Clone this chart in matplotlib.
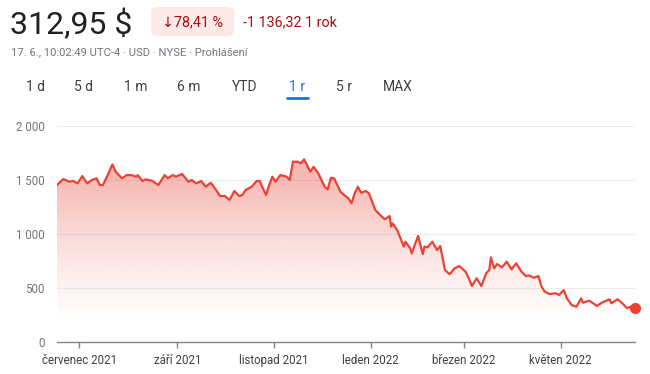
import numpy as np
import matplotlib
matplotlib.use("Agg")
import matplotlib.pyplot as plt
import matplotlib.dates as mdates
from matplotlib.patches import FancyBboxPatch, Polygon
import datetime as dt

plt.rcParams['font.family'] = ['Roboto', 'DejaVu Sans']

# price trace (date, USD)
dates = [
    "2021-06-17", "2021-06-21", "2021-06-25", "2021-06-27", "2021-06-30",
    "2021-07-03", "2021-07-06", "2021-07-09", "2021-07-12", "2021-07-14",
    "2021-07-16", "2021-07-19", "2021-07-22", "2021-07-24", "2021-07-28",
    "2021-07-31", "2021-08-03", "2021-08-06", "2021-08-07", "2021-08-10",
    "2021-08-12", "2021-08-16", "2021-08-20", "2021-08-24", "2021-08-26",
    "2021-08-29", "2021-08-31", "2021-09-04", "2021-09-08", "2021-09-10",
    "2021-09-13", "2021-09-16", "2021-09-19", "2021-09-22", "2021-09-24",
    "2021-09-28", "2021-10-01", "2021-10-04", "2021-10-07", "2021-10-10",
    "2021-10-12", "2021-10-14", "2021-10-18", "2021-10-21", "2021-10-23",
    "2021-10-25", "2021-10-27", "2021-10-29", "2021-10-31", "2021-11-02",
    "2021-11-05", "2021-11-09", "2021-11-11", "2021-11-13", "2021-11-16",
    "2021-11-18", "2021-11-20", "2021-11-24", "2021-11-26", "2021-11-29",
    "2021-12-03", "2021-12-05", "2021-12-07", "2021-12-09", "2021-12-13",
    "2021-12-16", "2021-12-18", "2021-12-20", "2021-12-22", "2021-12-24",
    "2021-12-26", "2021-12-29", "2021-12-31", "2022-01-04", "2022-01-07",
    "2022-01-10", "2022-01-13", "2022-01-14", "2022-01-15", "2022-01-18",
    "2022-01-22", "2022-01-23", "2022-01-26", "2022-01-27", "2022-01-31",
    "2022-02-03", "2022-02-04", "2022-02-06", "2022-02-09", "2022-02-12",
    "2022-02-14", "2022-02-17", "2022-02-20", "2022-02-23", "2022-02-26",
    "2022-03-02", "2022-03-04", "2022-03-06", "2022-03-09", "2022-03-12",
    "2022-03-15", "2022-03-17", "2022-03-18", "2022-03-20", "2022-03-22",
    "2022-03-25", "2022-03-28", "2022-03-31", "2022-04-03", "2022-04-06",
    "2022-04-09", "2022-04-11", "2022-04-14", "2022-04-17", "2022-04-19",
    "2022-04-21", "2022-04-24", "2022-04-28", "2022-04-30", "2022-05-03",
    "2022-05-05", "2022-05-08", "2022-05-11", "2022-05-14", "2022-05-15",
    "2022-05-19", "2022-05-21", "2022-05-24", "2022-05-27", "2022-05-30",
    "2022-06-01", "2022-06-02", "2022-06-06", "2022-06-09", "2022-06-12",
    "2022-06-14", "2022-06-17",
]
prices = [
    1453, 1508, 1483, 1492, 1468,
    1536, 1468, 1499, 1515, 1453,
    1453, 1545, 1644, 1576, 1515,
    1545, 1545, 1530, 1545, 1490,
    1505, 1492, 1453, 1545, 1515,
    1545, 1530, 1555, 1483, 1499,
    1468, 1490, 1437, 1474, 1437,
    1351, 1351, 1314, 1397, 1351,
    1360, 1406, 1437, 1490, 1490,
    1422, 1360, 1453, 1530, 1483,
    1545, 1530, 1499, 1669, 1669,
    1654, 1691, 1576, 1622, 1561,
    1437, 1413, 1520, 1515, 1391,
    1351, 1329, 1283, 1376, 1437,
    1381, 1397, 1376, 1221, 1175,
    1135, 1165, 1066, 1097, 1029,
    881, 927, 866, 819, 980,
    813, 881, 875, 927, 850,
    887, 665, 625, 680, 702,
    649, 588, 516, 588, 516,
    634, 665, 782, 680, 720,
    690, 742, 671, 727, 655,
    609, 615, 593, 609, 510,
    464, 442, 449, 433, 479,
    402, 340, 324, 402, 362,
    380, 362, 331, 362, 380,
    393, 356, 393, 356, 310,
    324, 312.95,
]

tick_dates = ["2021-07-01", "2021-09-01", "2021-11-01", "2022-01-01", "2022-03-01", "2022-05-01"]
tick_labels = ["červenec 2021", "září 2021", "listopad 2021", "leden 2022", "březen 2022", "květen 2022"]
y_ticks = [0, 500, 1000, 1500, 2000]
y_labels = ["0", "500", "1 000", "1 500", "2 000"]

tabs = ["1 d", "5 d", "1 m", "6 m", "YTD", "1 r", "5 r", "MAX"]
tab_x = [35, 84, 136, 189, 245, 297, 344, 398]

RED = "#ea4335"
GRAY = "#70757a"

x = mdates.date2num([dt.datetime.strptime(d, "%Y-%m-%d") for d in dates])
y = np.array(prices)

W, H = 650, 374
fig = plt.figure(figsize=(W / 100, H / 100), dpi=100)
ax = fig.add_axes([57 / W, (H - 341.7) / H, (635 - 57) / W, (341.7 - 126) / H])

ax.set_xlim(x[0], x[-1])
ax.set_ylim(0, 2000)

# gradient fill under the line
grad = np.linspace(0, 1, 256).reshape(-1, 1)
alpha = np.clip((grad - 0.08) / 0.8, 0, 1) ** 1.3 * 0.38
rgba = np.zeros((256, 1, 4))
rgba[..., :3] = matplotlib.colors.to_rgb(RED)
rgba[..., 3] = alpha
im = ax.imshow(rgba, extent=[x[0], x[-1], 0, 1750], origin="lower", aspect="auto", zorder=1)
poly = Polygon(np.column_stack([np.r_[x[0], x, x[-1]], np.r_[0, y, 0]]), closed=True,
               transform=ax.transData, facecolor="none", edgecolor="none")
ax.add_patch(poly)
im.set_clip_path(poly)

ax.plot(x, y, color=RED, lw=1.6, zorder=3, solid_joinstyle="round")
ax.plot(x[-1], y[-1], "o", color=RED, ms=7, zorder=4, clip_on=False)

for v in y_ticks[1:]:
    ax.axhline(v, color="#ebedef", lw=0.8, zorder=0)

for s in ["top", "right", "left"]:
    ax.spines[s].set_visible(False)
ax.spines["bottom"].set_color("#80868b")
ax.spines["bottom"].set_linewidth(1.0)

ax.set_yticks(y_ticks)
ax.set_yticklabels(y_labels)
ax.tick_params(axis="y", length=0, pad=9, labelsize=8.3, labelcolor=GRAY)
ax.set_xticks(mdates.date2num([dt.datetime.strptime(d, "%Y-%m-%d") for d in tick_dates]))
ax.set_xticklabels(tick_labels)
ax.tick_params(axis="x", length=4, width=1, color="#80868b", pad=5, labelsize=8.3, labelcolor="#3c4043")

# header
fig.text(10 / W, 1 - 24 / H, "312,95 $", fontsize=23, color="#202124", va="center", ha="left")
badge = FancyBboxPatch((151 / W, 1 - 36 / H), 83 / W, 29 / H,
                       boxstyle="round,pad=0,rounding_size=0.012",
                       transform=fig.transFigure, facecolor="#fce8e6", edgecolor="none")
fig.patches.append(badge)
fig.text(192 / W, 1 - 22 / H, "↓78,41 %", fontsize=10.3, color="#a50e0e", va="center", ha="center")
fig.text(243 / W, 1 - 22 / H, "-1 136,32 1 rok", fontsize=10.3, color="#a50e0e", va="center", ha="left")
fig.text(11 / W, 1 - 52 / H, "17. 6., 10:02:49 UTC-4 · USD · NYSE · Prohlášení",
         fontsize=8.1, color=GRAY, va="center", ha="left")

for t, tx in zip(tabs, tab_x):
    col = "#1a73e8" if t == "1 r" else "#3c4043"
    fig.text(tx / W, 1 - 87 / H, t, fontsize=10, color=col, va="center", ha="center")
fig.add_artist(plt.Line2D([287 / W, 308 / W], [1 - 98 / H, 1 - 98 / H], color="#1a73e8",
                          lw=2, solid_capstyle="round", transform=fig.transFigure))

fig.savefig("out.png", dpi=100)
